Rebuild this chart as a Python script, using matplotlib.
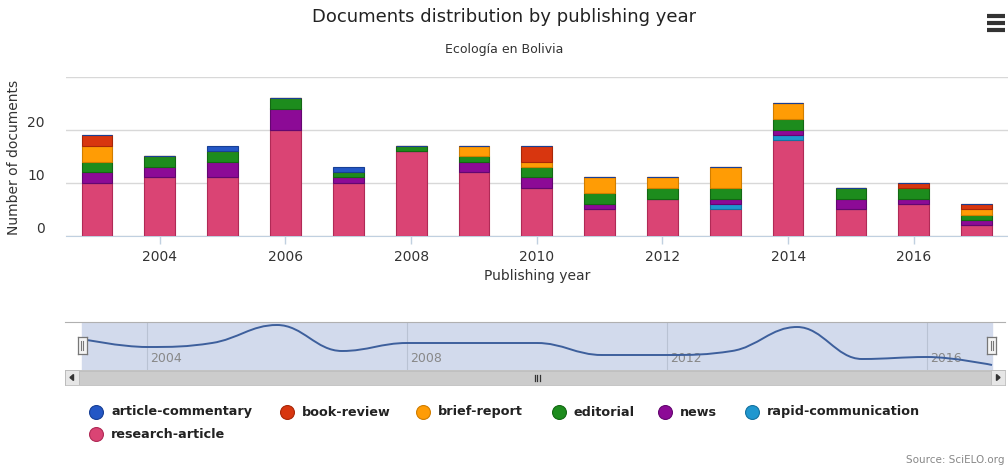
import matplotlib
matplotlib.use("Agg")
import matplotlib.pyplot as plt
import numpy as np
from matplotlib.path import Path
from matplotlib.patches import PathPatch, Rectangle, Polygon
from matplotlib.lines import Line2D

# ---------------- data ----------------
years = list(range(2003, 2018))
research_article = [10, 11, 11, 20, 10, 16, 12, 9, 5, 7, 5, 18, 5, 6, 2]
rapid_communication = [0, 0, 0, 0, 0, 0, 0, 0, 0, 0, 1, 1, 0, 0, 0]
news = [2, 2, 3, 4, 1, 0, 2, 2, 1, 0, 1, 1, 2, 1, 1]
editorial = [2, 2, 2, 2, 1, 1, 1, 2, 2, 2, 2, 2, 2, 2, 1]
brief_report = [3, 0, 0, 0, 0, 0, 2, 1, 3, 2, 4, 3, 0, 0, 1]
book_review = [2, 0, 0, 0, 0, 0, 0, 3, 0, 0, 0, 0, 0, 1, 1]
article_commentary = [0, 0, 1, 0, 1, 0, 0, 0, 0, 0, 0, 0, 0, 0, 0]

legend_names = ["article-commentary", "book-review", "brief-report", "editorial",
                "news", "rapid-communication", "research-article"]
colors = {
    "article-commentary": "#2457c5",
    "book-review": "#d8360f",
    "brief-report": "#ff9c05",
    "editorial": "#1d8c1d",
    "news": "#8c0a96",
    "rapid-communication": "#1f97cf",
    "research-article": "#da4474",
}
edge = {
    "article-commentary": "#173f95",
    "book-review": "#a82708",
    "brief-report": "#d07d00",
    "editorial": "#136813",
    "news": "#640670",
    "rapid-communication": "#1572a0",
    "research-article": "#b02a56",
}
series = {
    "article-commentary": article_commentary,
    "book-review": book_review,
    "brief-report": brief_report,
    "editorial": editorial,
    "news": news,
    "rapid-communication": rapid_communication,
    "research-article": research_article,
}
stack_order = ["research-article", "rapid-communication", "news", "editorial",
               "brief-report", "book-review", "article-commentary"]

title = "Documents distribution by publishing year"
subtitle = "Ecología en Bolivia"
y_label = "Number of documents"
x_label = "Publishing year"
source = "Source: SciELO.org"

W, H = 1008, 470
fig = plt.figure(figsize=(W / 100, H / 100), dpi=100)
fig.patch.set_facecolor("white")


def px_axes(left, top, right, bottom):
    return fig.add_axes([left / W, 1 - bottom / H, (right - left) / W, (bottom - top) / H])


FONT = "DejaVu Sans"

# ---------------- main chart ----------------
ax = px_axes(65.6, 76.7, 1008, 235.7)
ax.set_facecolor("white")
x = np.array(years, dtype=float)
bottom = np.zeros(len(years))
for name in stack_order:
    vals = np.array(series[name], dtype=float)
    ax.bar(x, vals, width=0.49, bottom=bottom, color=colors[name],
           edgecolor=edge[name], linewidth=0.8, zorder=3)
    bottom += vals

ax.set_xlim(2002.5, 2017.5)
ax.set_ylim(0, 30)
ax.set_yticks([0, 10, 20, 30])
ax.yaxis.grid(True, color="#d8d8d8", linewidth=1.0, zorder=0)
ax.set_yticklabels([])
ax.tick_params(axis="y", length=0)
for v in [0, 10, 20]:
    ax.text(-0.022, v, str(v), transform=ax.get_yaxis_transform(), ha="right",
            va="bottom", fontsize=10, color="#333333", family=FONT)
ax.set_xticks(range(2004, 2017, 2))
ax.set_xticklabels([str(t) for t in range(2004, 2017, 2)], fontsize=10,
                   color="#333333", family=FONT)
ax.tick_params(axis="x", length=6, width=1, color="#c0d0e0", pad=4)
for s in ["top", "right", "left"]:
    ax.spines[s].set_visible(False)
ax.spines["bottom"].set_color("#c0d0e0")
ax.set_xlabel(x_label, fontsize=10, color="#333333", family=FONT, labelpad=4)
fig.text(14 / W, 1 - 157 / H, y_label, rotation=90, ha="center", va="center",
         fontsize=10, color="#333333", family=FONT)

fig.text(504 / W, 1 - 17 / H, title, ha="center", va="center", fontsize=13,
         color="#222222", family=FONT)
fig.text(504 / W, 1 - 50 / H, subtitle, ha="center", va="center", fontsize=9,
         color="#333333", family=FONT)

# hamburger menu
for yy in [16, 23, 30]:
    fig.add_artist(Line2D([987 / W, 1005 / W], [1 - yy / H, 1 - yy / H],
                          color="#333333", linewidth=3.0, solid_capstyle="butt"))

# ---------------- navigator ----------------
totals = [sum(series[n][i] for n in legend_names) for i in range(len(years))]
nav = px_axes(65, 322, 1005, 370)
x0_px, px_per_year = 82.0, 65.0
nav.set_xlim(2003 - (x0_px - 65) / px_per_year, 2003 + (1005 - x0_px) / px_per_year)
nav.set_ylim(3.5, 27.5)
nav.set_facecolor("white")
nav.axvspan(2003, 2017, color="#d2daec", zorder=0)
for yr in [2004, 2008, 2012, 2016]:
    nav.axvline(yr, color="#b9c2d3", linewidth=0.8, zorder=1)
    nav.text(yr + 0.05, 0.1, str(yr), transform=nav.get_xaxis_transform(),
             fontsize=9, color="#888888", ha="left", va="bottom", family=FONT, zorder=2)
nav.set_xticks([])
nav.set_yticks([])
for s in ["left", "right", "bottom"]:
    nav.spines[s].set_visible(False)
nav.spines["top"].set_color("#b0b0b0")


def spline_path(xs, ys, smoothing=1.5):
    denom = smoothing + 1
    n = len(xs)
    verts = [(xs[0], ys[0])]
    codes = [Path.MOVETO]
    conts = []
    for i in range(n):
        if 0 < i < n - 1:
            px, py = xs[i], ys[i]
            lx, ly = xs[i - 1], ys[i - 1]
            nx, ny = xs[i + 1], ys[i + 1]
            lcx = (smoothing * px + lx) / denom
            lcy = (smoothing * py + ly) / denom
            rcx = (smoothing * px + nx) / denom
            rcy = (smoothing * py + ny) / denom
            corr = ((rcy - lcy) * (rcx - px)) / (rcx - lcx) + py - rcy
            lcy += corr
            rcy += corr
            if lcy > max(ly, py) or lcy < min(ly, py):
                lcy = max(ly, py) if lcy > max(ly, py) else min(ly, py)
                rcy = 2 * py - lcy
            if rcy > max(ny, py) or rcy < min(ny, py):
                rcy = max(ny, py) if rcy > max(ny, py) else min(ny, py)
                lcy = 2 * py - rcy
            conts.append(((lcx, lcy), (rcx, rcy)))
        else:
            conts.append(((xs[i], ys[i]), (xs[i], ys[i])))
    for i in range(1, n):
        verts += [conts[i - 1][1], conts[i][0], (xs[i], ys[i])]
        codes += [Path.CURVE4] * 3
    return Path(verts, codes)


nav.add_patch(PathPatch(spline_path(list(map(float, years)), list(map(float, totals))),
                        facecolor="none", edgecolor="#3d5f9c", linewidth=1.4, zorder=3))

# handles
for yr in [2003, 2017]:
    hx = nav.transData.transform((yr, 0))[0]
    hax = fig.add_axes([(hx - 4.5) / W, 1 - 354 / H, 9 / W, 17 / H])
    hax.set_xlim(0, 1)
    hax.set_ylim(0, 1)
    hax.set_facecolor("#f4f4f4")
    for s in hax.spines.values():
        s.set_color("#777777")
        s.set_linewidth(0.9)
    hax.set_xticks([])
    hax.set_yticks([])
    hax.plot([0.4, 0.4], [0.25, 0.75], color="#777777", lw=0.8)
    hax.plot([0.6, 0.6], [0.25, 0.75], color="#777777", lw=0.8)

# scrollbar
sb = px_axes(65, 370, 1005, 385)
sb.set_xlim(0, 940)
sb.set_ylim(0, 15)
sb.set_facecolor("#eeeeee")
sb.add_patch(Rectangle((14, 0.5), 912, 14, facecolor="#cccccc", edgecolor="#bbbbbb", lw=0.6))
sb.add_patch(Rectangle((0, 0), 14, 15, facecolor="#e6e6e6", edgecolor="#bbbbbb", lw=0.6))
sb.add_patch(Rectangle((926, 0), 14, 15, facecolor="#e6e6e6", edgecolor="#bbbbbb", lw=0.6))
sb.add_patch(Polygon([[5, 7.5], [8.5, 10.5], [8.5, 4.5]], color="#333333"))
sb.add_patch(Polygon([[935, 7.5], [931.5, 10.5], [931.5, 4.5]], color="#333333"))
for dx in [-2.5, 0, 2.5]:
    sb.plot([472 + dx, 472 + dx], [4.5, 10.5], color="#333333", lw=0.9)
sb.set_xticks([])
sb.set_yticks([])
for s in sb.spines.values():
    s.set_color("#bbbbbb")
    s.set_linewidth(0.6)

# ---------------- legend ----------------
legend_pos = [(96, 412), (287, 412), (423, 412), (559, 412), (665, 412), (752, 412), (96, 434)]
for name, (mx, my) in zip(legend_names, legend_pos):
    fig.add_artist(Line2D([mx / W], [1 - my / H], marker="o", markersize=10,
                          markerfacecolor=colors[name], markeredgecolor=edge[name],
                          markeredgewidth=0.8, linestyle="none"))
    fig.text((mx + 15) / W, 1 - my / H, name, ha="left", va="center", fontsize=9.2,
             fontweight="bold", color="#222222", family=FONT)

fig.text(1005 / W, 1 - 460 / H, source, ha="right", va="center", fontsize=7.5,
         color="#888888", family=FONT)

fig.savefig("out.png", dpi=100, facecolor="white")
